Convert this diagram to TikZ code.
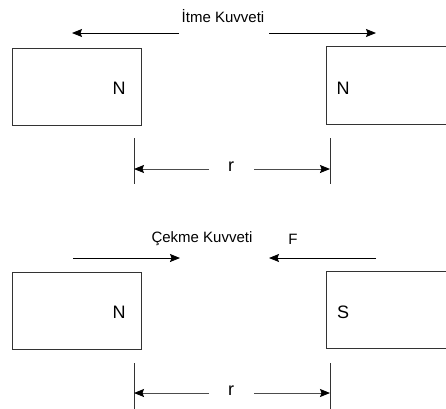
\documentclass[tikz,border=0pt]{standalone}
\usepackage{fontspec}
\setmainfont{Liberation Sans}
\usetikzlibrary{arrows.meta}
\begin{document}
\begin{tikzpicture}[x=1pt,y=-1pt,
  magnet/.style={draw=black!80,line width=0.9pt,rectangle,inner sep=0pt},
  pole/.style={font=\fontsize{18}{21}\selectfont,inner sep=0pt},
  title/.style={font=\fontsize{15}{18}\selectfont,inner sep=0pt},
  force/.style={line width=0.9pt,-{Stealth[length=10pt,width=8pt,inset=1.5pt]}},
  tick/.style={draw=black!80,line width=0.9pt},
  dimarrow/.style={draw=black!70,line width=0.9pt,-{Stealth[length=10pt,width=8pt,inset=1.5pt,color=black]}}]
\useasboundingbox (0,0) rectangle (446,408);
\clip (0,0) rectangle (446,408);
% ---------- top: repulsion ----------
\node[title] (t1) at (223,16) {İtme Kuvveti};
\coordinate (a1s) at (179,33); \coordinate (a1e) at (72,33);
\coordinate (a2s) at (269,33); \coordinate (a2e) at (376,33);
\draw[force] (a1s) -- (a1e);
\draw[force] (a2s) -- (a2e);
\node[magnet,minimum width=129pt,minimum height=77pt] (m1) at (76.5,86.5) {};
\node[magnet,minimum width=140pt,minimum height=78pt] (m2) at (396,85) {};
\node[pole] (n1) at (119,88) {N};
\node[pole] (n2) at (343,88) {N};
\coordinate (k1t) at (134,138); \coordinate (k1b) at (134,184);
\coordinate (k2t) at (330,138); \coordinate (k2b) at (330,184);
\draw[tick] (k1t) -- (k1b);
\draw[tick] (k2t) -- (k2b);
\node[pole] (r1) at (231,167) {r};
\coordinate (d1s) at (209,169); \coordinate (d1e) at (134,169);
\coordinate (d2s) at (254,169); \coordinate (d2e) at (330,169);
\draw[dimarrow] (d1s) -- (d1e);
\draw[dimarrow] (d2s) -- (d2e);
% ---------- bottom: attraction ----------
\node[title] (t2) at (202,239) {Çekme Kuvveti};
\node[title] (f) at (293,239) {F};
\coordinate (b1s) at (73,258); \coordinate (b1e) at (180,258);
\coordinate (b2s) at (376,258); \coordinate (b2e) at (269,258);
\draw[force] (b1s) -- (b1e);
\draw[force] (b2s) -- (b2e);
\node[magnet,minimum width=129pt,minimum height=77pt] (m3) at (76.5,310.5) {};
\node[magnet,minimum width=140pt,minimum height=77pt] (m4) at (396,309.5) {};
\node[pole] (n3) at (119,312) {N};
\node[pole] (s4) at (343,312) {S};
\coordinate (k3t) at (134,363); \coordinate (k3b) at (134,412);
\coordinate (k4t) at (330,363); \coordinate (k4b) at (330,412);
\draw[tick] (k3t) -- (k3b);
\draw[tick] (k4t) -- (k4b);
\node[pole] (r2) at (231,391) {r};
\coordinate (d3s) at (209,393); \coordinate (d3e) at (134,393);
\coordinate (d4s) at (254,393); \coordinate (d4e) at (330,393);
\draw[dimarrow] (d3s) -- (d3e);
\draw[dimarrow] (d4s) -- (d4e);
\end{tikzpicture}
\end{document}
